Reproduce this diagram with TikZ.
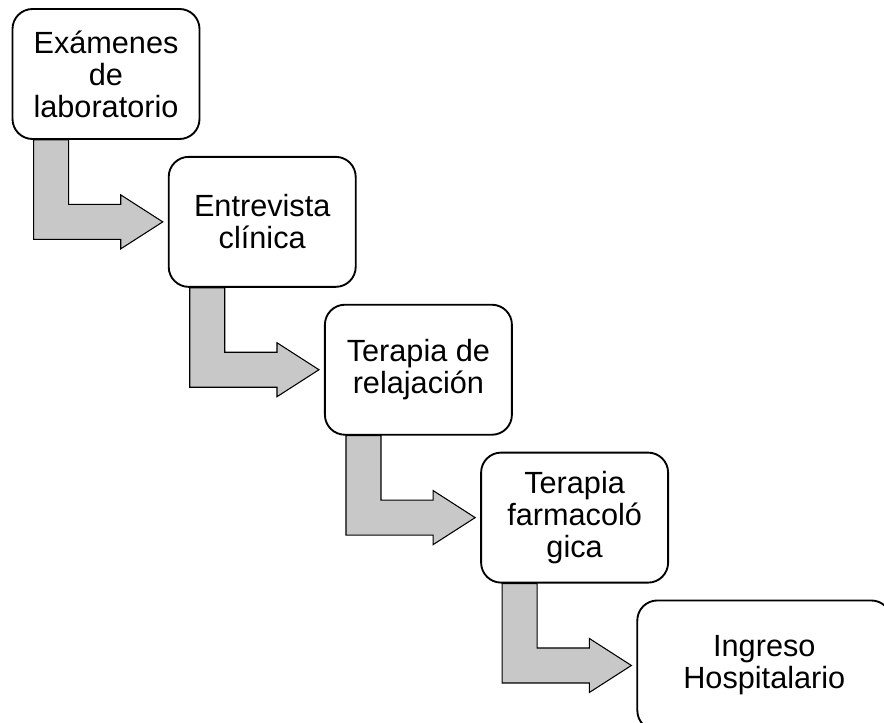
\documentclass[tikz,border=0pt]{standalone}
\usepackage{fontspec}
\setmainfont{Liberation Sans}
\usepackage{tikz}
\usetikzlibrary{calc}
\usetikzlibrary{positioning}
\usetikzlibrary{backgrounds}
\definecolor{arrowgray}{RGB}{200,200,200}
\tikzset{
  stepbox/.style={draw, line width=1.4pt, rounded corners=15pt, fill=white,
    minimum width=140.25pt, minimum height=97.5pt, align=center,
    font=\fontsize{23}{24}\selectfont, inner sep=2pt},
  steparrow/.style={draw, line width=0.8pt, fill=arrowgray, line join=miter}
}

\begin{document}
\begin{tikzpicture}[x=0.75pt, y=-0.75pt, node distance=12pt and -24.5pt]
     \useasboundingbox (0,0) rectangle (884,723);
     \clip (0,0) rectangle (884,723);
     %nodes
     \node[stepbox] (lab) at (106,74) {Exámenes\\de\\laboratorio};
     \node[stepbox, below right=of lab] (ent) {Entrevista\\clínica};
     \node[stepbox, below right=of ent] (rel) {Terapia de\\relajación};
     \node[stepbox, below right=of rel] (far) {Terapia\\farmacoló\\gica};
     \node[stepbox, below right=of far, minimum width=190.5pt] (ing) {Ingreso\\Hospitalario};

     %arrows
     \begin{pgfonlayer}{background}
     \draw[steparrow] ($(lab.south west)+(22,0)$) |- ($(ent.west)+(-47,17.5)$) -- ++(0,9.5) -- ($(ent.west)+(-5,0)$) -- ++(-42,-27) -- ++(0,9.5) -| ($(lab.south west)+(57,0)$) -- cycle;
     \draw[steparrow] ($(ent.south west)+(22,0)$) |- ($(rel.west)+(-47,17.5)$) -- ++(0,9.5) -- ($(rel.west)+(-5,0)$) -- ++(-42,-27) -- ++(0,9.5) -| ($(ent.south west)+(57,0)$) -- cycle;
     \draw[steparrow] ($(rel.south west)+(22,0)$) |- ($(far.west)+(-47,17.5)$) -- ++(0,9.5) -- ($(far.west)+(-5,0)$) -- ++(-42,-27) -- ++(0,9.5) -| ($(rel.south west)+(57,0)$) -- cycle;
     \draw[steparrow] ($(far.south west)+(22,0)$) |- ($(ing.west)+(-47,17.5)$) -- ++(0,9.5) -- ($(ing.west)+(-5,0)$) -- ++(-42,-27) -- ++(0,9.5) -| ($(far.south west)+(57,0)$) -- cycle;
     \end{pgfonlayer}
\end{tikzpicture}
\end{document}
